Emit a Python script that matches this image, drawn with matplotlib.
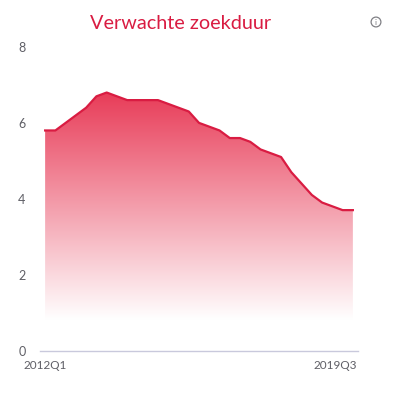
import numpy as np
import matplotlib
matplotlib.use("Agg")
import matplotlib.pyplot as plt
from matplotlib.colors import LinearSegmentedColormap
from matplotlib.patches import Circle
from matplotlib.transforms import ScaledTranslation

title = "Verwachte zoekduur"
quarters = [f"{y}Q{q}" for y in range(2012, 2020) for q in range(1, 5)][:31]
values = [5.8, 5.8, 6.0, 6.2, 6.4, 6.7, 6.8, 6.7, 6.6, 6.6, 6.6, 6.6, 6.5, 6.4, 6.3, 6.0,
          5.9, 5.8, 5.6, 5.6, 5.5, 5.3, 5.2, 5.1, 4.7, 4.4, 4.1, 3.9, 3.8, 3.7, 3.7]
y_ticks = [0, 2, 4, 6, 8]

W, H = 395, 396
plt.rcParams['font.family'] = ['Lato', 'DejaVu Sans']
fig = plt.figure(figsize=(W / 100, H / 100), dpi=100, facecolor='white')
ax = fig.add_axes([40 / W, 1 - 350.5 / H, 318 / W, 303.5 / H])
x = np.arange(len(values))
ax.set_xlim(-0.5, len(values) - 0.5)
ax.set_ylim(0, 8)

cmap = LinearSegmentedColormap.from_list('g', ['#ffffff', '#e83c58'])
top = max(values)
fade_to = 0.8
img = ax.imshow(np.linspace(1, 0, 256).reshape(-1, 1), extent=(-0.5, len(values) - 0.5, fade_to, top),
                aspect='auto', cmap=cmap, vmin=0, vmax=1, zorder=1, interpolation='bilinear')
poly = ax.fill_between(x, fade_to, values, facecolor='none', edgecolor='none', zorder=1)
img.set_clip_path(poly.get_paths()[0], transform=ax.transData)
ax.set_xlim(-0.5, len(values) - 0.5)
ax.set_ylim(0, 8)
ax.plot(x, values, color='#d91c42', lw=1.6, zorder=2, solid_joinstyle='round')

for s in ['top', 'left', 'right']:
    ax.spines[s].set_visible(False)
ax.spines['bottom'].set_color('#c9c9dc')
ax.spines['bottom'].set_linewidth(1.0)

ax.set_yticks(y_ticks)
ax.tick_params(axis='y', length=0, pad=10.5, labelsize=9, labelcolor='#5f5f66')
ax.set_xticks([0, len(values) - 1])
ax.set_xticklabels([quarters[0], quarters[-1]])
ax.tick_params(axis='x', length=0, pad=6.5, labelsize=8.5, labelcolor='#5f5f66')
labels = ax.get_xticklabels()
labels[0].set_ha('center')
labels[1].set_ha('right')
labels[1].set_transform(labels[1].get_transform() + ScaledTranslation(4 / 100, 0, fig.dpi_scale_trans))

fig.text(181 / W, 1 - 23.5 / H, title, color='#d91c42', fontsize=14.35, ha='center', va='center')

icon = fig.add_axes([370 / W, 1 - 28 / H, 12 / W, 12 / H])
icon.set_xlim(-6, 6)
icon.set_ylim(-6, 6)
icon.axis('off')
icon.add_patch(Circle((0, 0), 4.9, fill=False, ec='#808085', lw=0.9))
icon.text(0, -0.1, 'i', color='#808085', fontsize=6, ha='center', va='center')

fig.savefig('out.png', dpi=100, facecolor='white')
